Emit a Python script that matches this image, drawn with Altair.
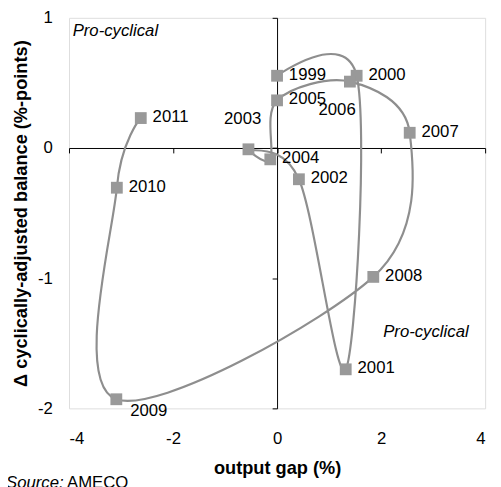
import altair as alt
import pandas as pd

years = [1999, 2000, 2001, 2002, 2003, 2004, 2005, 2006, 2007, 2008, 2009, 2010, 2011]
output_gap = [0.0, 1.53, 1.32, 0.42, -0.55, -0.13, 0.0, 1.40, 2.55, 1.85, -3.09, -3.08, -2.62]
cab_change = [0.555, 0.555, -1.70, -0.24, -0.01, -0.087, 0.366, 0.51, 0.117, -0.99, -1.93, -0.305, 0.23]

right_labelled = [1999, 2000, 2001, 2002, 2004, 2005, 2007, 2008, 2010, 2011]

note_text = ["Pro-cyclical", "Pro-cyclical"]
note_x = [-3.93, 2.04]
note_y = [0.90, -1.415]

df = pd.DataFrame({"year": years, "gap": output_gap, "cab": cab_change})
df["label"] = df["year"].astype(str)
notes = pd.DataFrame({"text": note_text, "x": note_x, "y": note_y})

W, H = 423, 397
FONT = "Liberation Sans"
FS = 17
TFS = 18.5
GREY_M = "#999999"
GREY_L = "#8e8e8e"

xs = alt.Scale(domain=[-4, 4], nice=False, zero=False)
ys = alt.Scale(domain=[-2, 1], nice=False, zero=False)

edge_x_axis = alt.Axis(orient="bottom", values=[-4, -2, 0, 2, 4], domain=False, ticks=False,
                       tickSize=0, grid=False, labelPadding=23, labelFontSize=FS, labelFont=FONT,
                       labelColor="#000", labelExpr="toString(datum.value)",
                       title="output gap (%)", titleFont=FONT,
                       titleFontSize=TFS, titleFontWeight="bold", titleColor="#000", titlePadding=12)
edge_y_axis = alt.Axis(orient="left", values=[-2, -1, 0, 1], domain=False, ticks=False,
                       tickSize=0, grid=False, labelPadding=17, labelFontSize=FS, labelFont=FONT,
                       labelColor="#000", labelExpr="toString(datum.value)",
                       title="Δ cyclically-adjusted balance (%-points)",
                       titleFont=FONT, titleFontSize=TFS, titleFontWeight="bold",
                       titleColor="#000", titlePadding=7)

zero_x_axis = alt.Axis(orient="bottom", values=[-4, -2, 0, 2, 4], offset=-(2 * H / 3),
                       labels=False, title=None, grid=False, domainColor="#000",
                       tickColor="#000", tickSize=5, domainWidth=1, tickWidth=1)
zero_y_axis = alt.Axis(orient="left", values=[-2, -1, 0, 1], offset=-(W / 2),
                       labels=False, title=None, grid=False, domainColor="#000",
                       tickColor="#000", tickSize=5, domainWidth=1, tickWidth=1)

base = alt.Chart(df)
X = alt.X("gap:Q", scale=xs, axis=None)
Y = alt.Y("cab:Q", scale=ys, axis=None)

axes_layer = base.mark_point(opacity=0).encode(
    x=alt.X("gap:Q", scale=xs, axis=zero_x_axis),
    y=alt.Y("cab:Q", scale=ys, axis=zero_y_axis),
)

line = base.mark_line(interpolate="cardinal", color=GREY_L, strokeWidth=2.2).encode(
    x=alt.X("gap:Q", scale=xs, axis=edge_x_axis),
    y=alt.Y("cab:Q", scale=ys, axis=edge_y_axis),
    order=alt.Order("year:Q"),
)

points = base.mark_square(size=144, color=GREY_M, opacity=1).encode(x=X, y=Y)

txt = dict(font=FONT, fontSize=FS, color="#000")

lab_right = base.transform_filter(
    alt.FieldOneOfPredicate(field="year", oneOf=right_labelled)
).mark_text(align="left", baseline="middle", dx=12, dy=-1, **txt).encode(
    x=X, y=Y, text="label:N")

lab_2003 = base.transform_filter(alt.datum.year == 2003).mark_text(
    align="right", baseline="middle", dx=13, dy=-31, **txt).encode(x=X, y=Y, text="label:N")

lab_2006 = base.transform_filter(alt.datum.year == 2006).mark_text(
    align="center", baseline="middle", dx=-13, dy=29, **txt).encode(x=X, y=Y, text="label:N")

lab_2009 = base.transform_filter(alt.datum.year == 2009).mark_text(
    align="center", baseline="middle", dx=33, dy=12, **txt).encode(x=X, y=Y, text="label:N")

note_layer = alt.Chart(notes).mark_text(
    align="left", baseline="middle", fontStyle="italic", **txt).encode(
    x=alt.X("x:Q", scale=xs, axis=None), y=alt.Y("y:Q", scale=ys, axis=None), text="text:N")

src1 = alt.Chart(pd.DataFrame({"t": ["Source:"]})).mark_text(
    align="left", baseline="middle", fontStyle="italic", **txt).encode(
    x=alt.value(-64), y=alt.value(H + 76), text="t:N")
src2 = alt.Chart(pd.DataFrame({"t": ["AMECO"]})).mark_text(
    align="left", baseline="middle", **txt).encode(
    x=alt.value(-2), y=alt.value(H + 76), text="t:N")

chart = alt.layer(
    axes_layer, line, points, lab_right, lab_2003, lab_2006, lab_2009, note_layer, src1, src2
).resolve_axis(x="independent", y="independent").properties(
    width=W, height=H,
    autosize=alt.AutoSizeParams(type="none"),
    padding={"left": 62, "top": 6, "right": 8, "bottom": 80},
).configure_view(stroke=None).configure(background="white")

chart.save("out.html", embed_options={"renderer": "svg", "actions": False})
